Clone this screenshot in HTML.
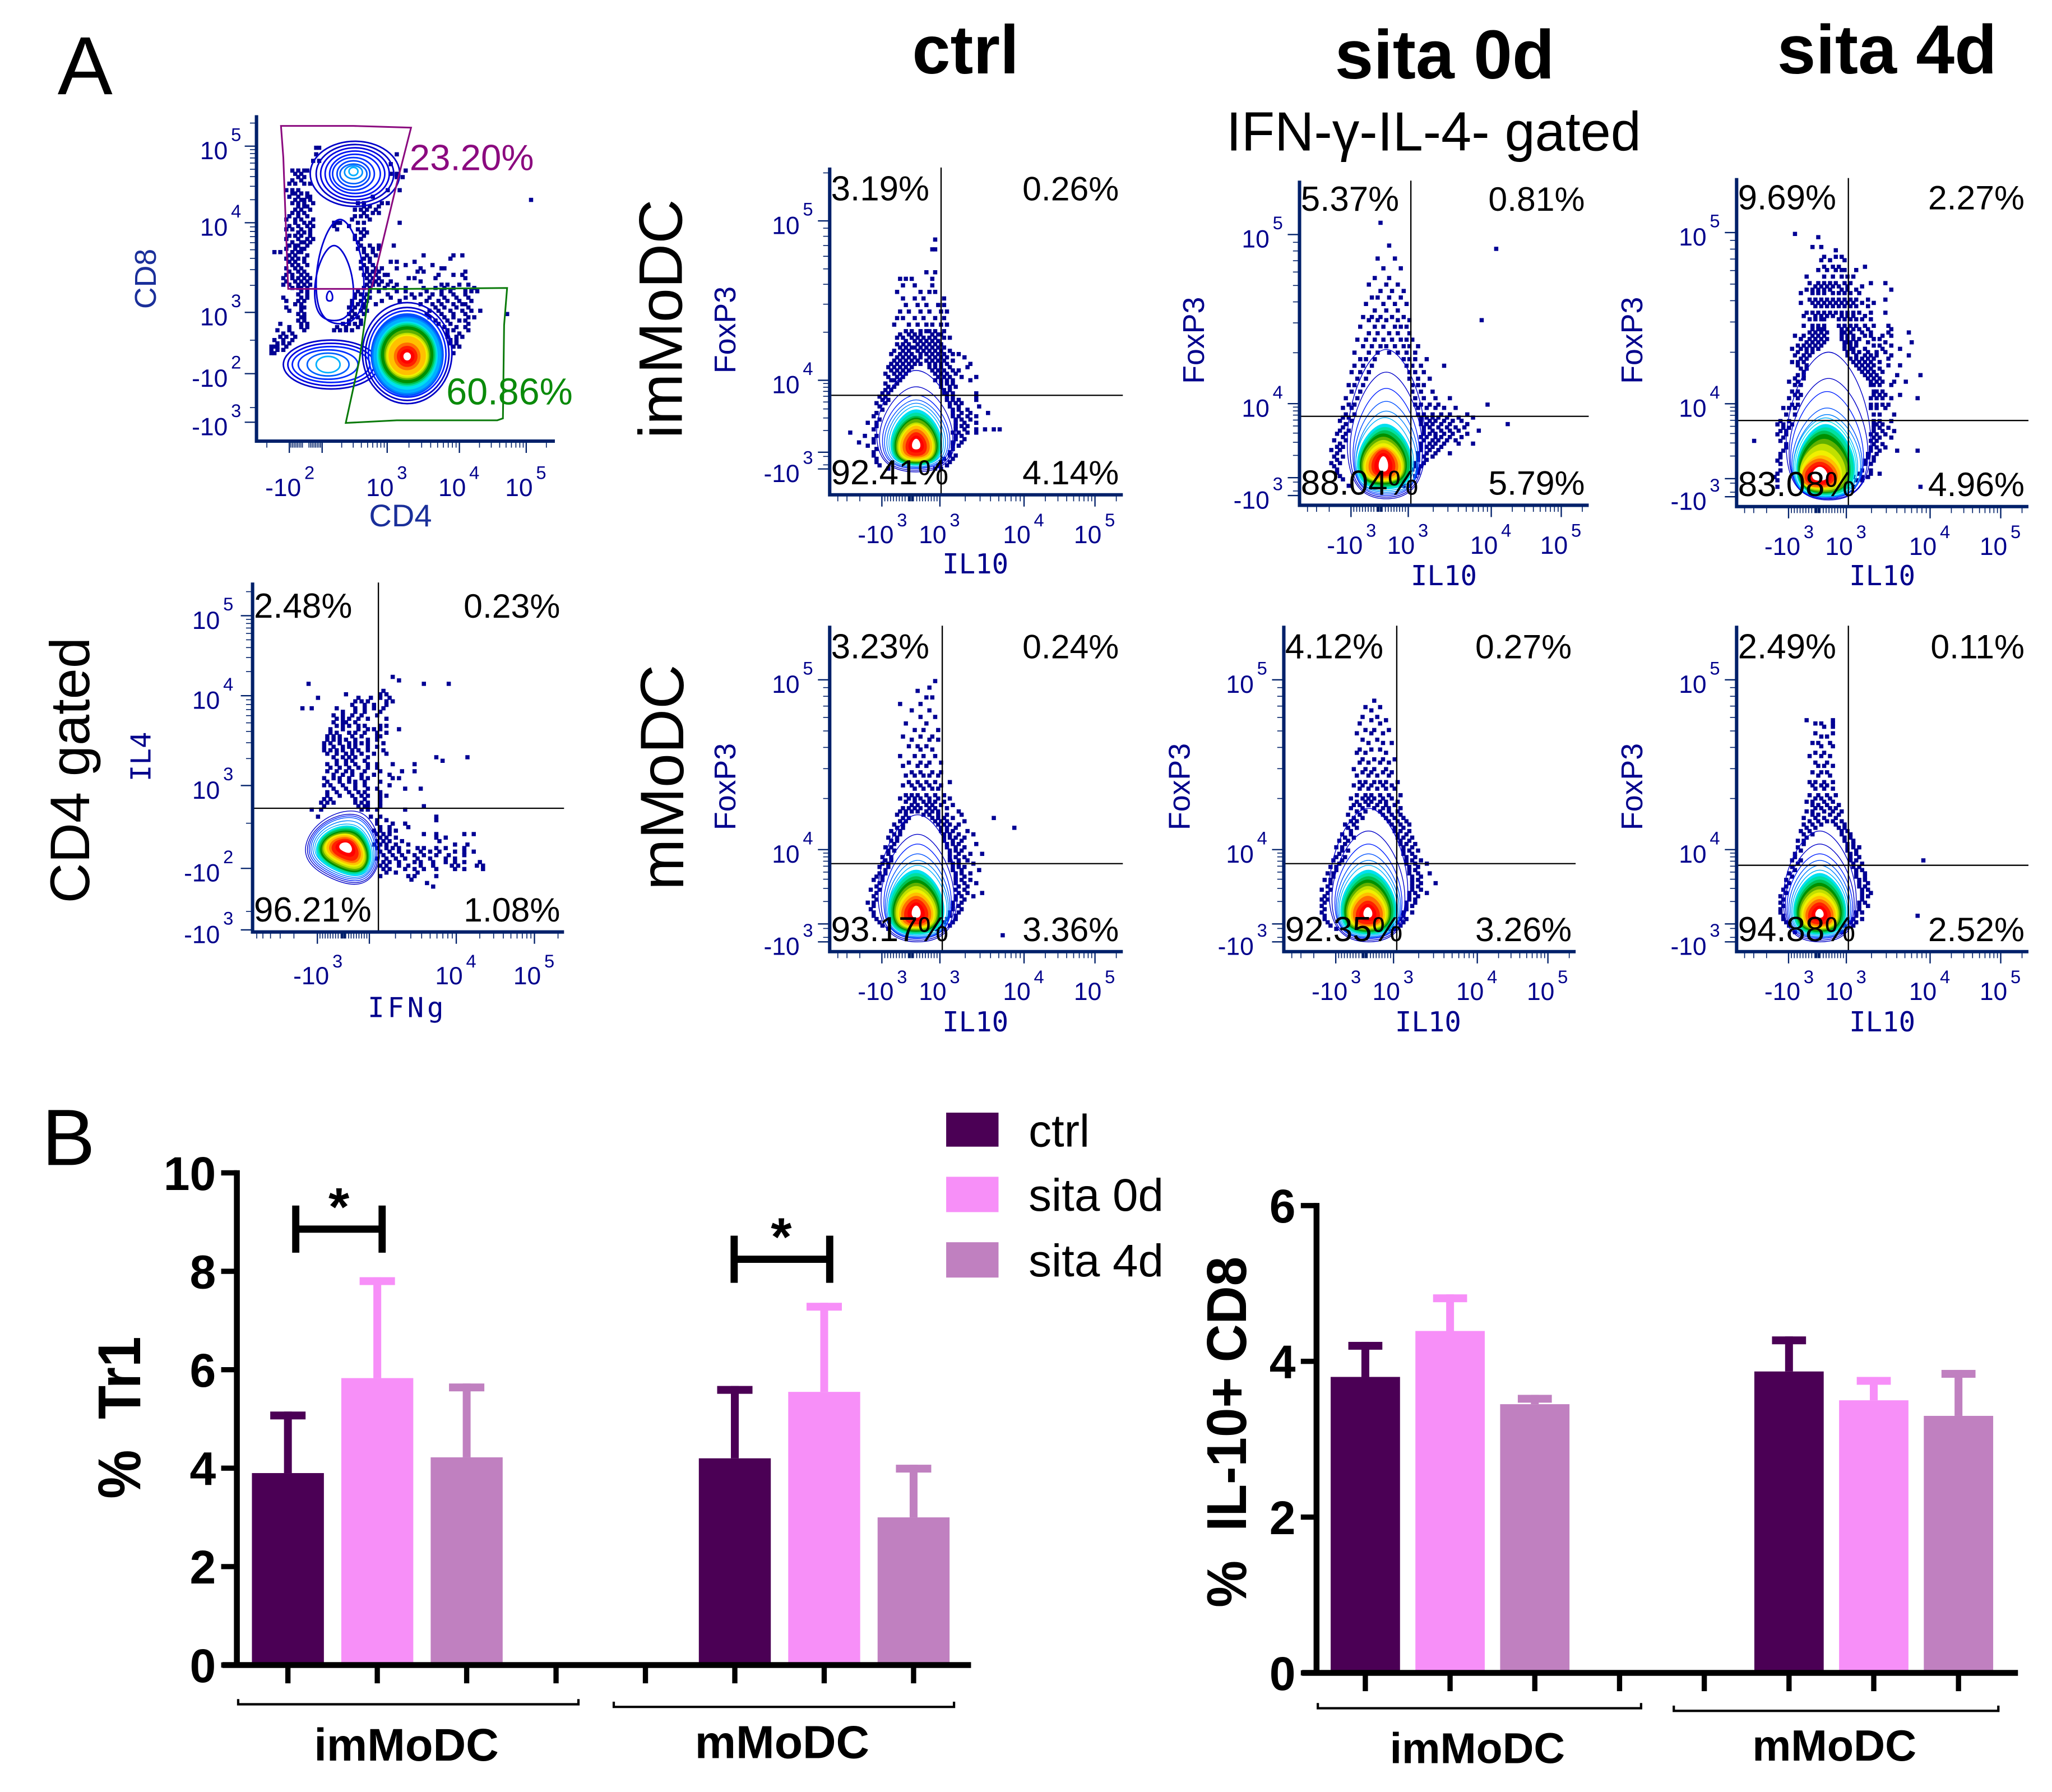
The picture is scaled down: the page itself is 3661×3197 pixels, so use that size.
<!DOCTYPE html>
<html lang="en">
<head>
<meta charset="utf-8">
<title>Flow cytometry and bar chart figure</title>
<style>
html,body{margin:0;padding:0;background:#fff}
svg{display:block;font-family:"Liberation Sans",sans-serif}
.b{font-weight:bold}
.flow{fill:#00008c;font-family:"Liberation Sans",sans-serif}
.mono{fill:#00008c;font-family:"DejaVu Sans Mono","Liberation Mono",monospace;font-size:21px}
</style>
</head>
<body>
<svg id="figure" xmlns="http://www.w3.org/2000/svg" width="3661" height="3197" viewBox="0 0 1568 1369" preserveAspectRatio="none">
<rect width="1568" height="1369" fill="#fff"/>
<text x="44" y="72" font-size="63">A</text>
<text x="32" y="890" font-size="61">B</text>
<text x="697" y="56" font-size="52.5" class="b">ctrl</text>
<text x="1020" y="60" font-size="53" class="b">sita 0d</text>
<text x="1358" y="56" font-size="53" class="b">sita 4d</text>
<text x="937" y="115" font-size="42" textLength="317" lengthAdjust="spacingAndGlyphs">IFN-γ-IL-4- gated</text>
<text transform="translate(521,335) rotate(-90)" font-size="47">imMoDC</text>
<text transform="translate(522,680) rotate(-90)" font-size="47">mMoDC</text>
<text transform="translate(68,690) rotate(-90)" font-size="42.5">CD4 gated</text>

<text transform="translate(119,213) rotate(-90)" text-anchor="middle" font-size="23" fill="#1a2f9a">CD8</text>
<text x="282" y="402" font-size="24" fill="#1a2f9a">CD4</text>
<text transform="translate(115,578) rotate(-90)" text-anchor="middle" class="mono">IL4</text>
<text x="281" y="777" class="mono" textLength="58">IFNg</text>
<text transform="translate(562,252) rotate(-90)" text-anchor="middle" font-size="23" class="flow">FoxP3</text>
<text transform="translate(920,260) rotate(-90)" text-anchor="middle" font-size="23" class="flow">FoxP3</text>
<text transform="translate(1255,260) rotate(-90)" text-anchor="middle" font-size="23" class="flow">FoxP3</text>
<text transform="translate(562,601) rotate(-90)" text-anchor="middle" font-size="23" class="flow">FoxP3</text>
<text transform="translate(909,601) rotate(-90)" text-anchor="middle" font-size="23" class="flow">FoxP3</text>
<text transform="translate(1255,601) rotate(-90)" text-anchor="middle" font-size="23" class="flow">FoxP3</text>
<text x="720" y="438" class="mono">IL10</text>
<text x="1078" y="447" class="mono">IL10</text>
<text x="1413" y="447" class="mono">IL10</text>
<text x="720" y="788" class="mono">IL10</text>
<text x="1066" y="788" class="mono">IL10</text>
<text x="1413" y="788" class="mono">IL10</text>

<g>
<rect x="723" y="850" width="40" height="26" fill="#4b0055"/>
<text x="786" y="876" font-size="35">ctrl</text>
<rect x="723" y="899" width="40" height="27" fill="#f78ff8"/>
<text x="786" y="925" font-size="35">sita 0d</text>
<rect x="723" y="949" width="40" height="27" fill="#c080c0"/>
<text x="786" y="975" font-size="35">sita 4d</text>
</g>

<text transform="translate(107,1145) rotate(-90)" font-size="46" class="b" textLength="124" lengthAdjust="spacingAndGlyphs">%&#160;&#160;Tr1</text>
<text transform="translate(952,1228) rotate(-90)" font-size="43" class="b" textLength="268" lengthAdjust="spacingAndGlyphs">%&#160;&#160;IL-10+ CD8</text>
<text x="240" y="1345" font-size="34.8" class="b">imMoDC</text>
<text x="531" y="1343" font-size="35.3" class="b">mMoDC</text>
<text x="1062" y="1347" font-size="33" class="b">imMoDC</text>
<text x="1339" y="1345" font-size="33.2" class="b">mMoDC</text>
<path d="M182 1298V1302H442V1298" fill="none" stroke="#000" stroke-width="1.8"/>
<path d="M469 1300V1304H729V1300" fill="none" stroke="#000" stroke-width="1.8"/>
<path d="M1007 1301V1305H1254V1301" fill="none" stroke="#000" stroke-width="1.8"/>
<path d="M1279 1303V1307H1527V1303" fill="none" stroke="#000" stroke-width="1.8"/>
<path d="M226 921V957M292 921V957M226 939H292" fill="none" stroke="#000" stroke-width="5.5"/>
<text x="251" y="936" font-size="41" class="b">*</text>
<path d="M561 944V980M634 944V980M561 962H634" fill="none" stroke="#000" stroke-width="5.5"/>
<text x="589" y="959" font-size="41" class="b">*</text>
</svg>

<script>
/* ---------- bar chart values ---------- */
const treatments = ['ctrl', 'sita 0d', 'sita 4d'];
const groups = ['imMoDC', 'mMoDC'];
const treatmentColors = ['#4b0055', '#f78ff8', '#c080c0'];
const tr1Means = [3.9, 5.83, 4.22, 4.2, 5.55, 3.0];
const tr1ErrorTops = [5.15, 7.88, 5.72, 5.67, 7.36, 4.07];
const tr1Ticks = [0, 2, 4, 6, 8, 10];
const il10Cd8Means = [3.8, 4.39, 3.45, 3.87, 3.5, 3.3];
const il10Cd8ErrorTops = [4.25, 4.86, 3.57, 4.32, 3.8, 3.89];
const il10Cd8Ticks = [0, 2, 4, 6];
const slotCount = 8;

/* ---------- flow axis tick values and their display channels (0-100) ---------- */
const il10TickValues = [-1000, 1000, 10000, 100000];
const il10TickChannels = [17.8, 37.6, 66.3, 90.5];
const foxp3TickValues = [-1000, 1000, 10000, 100000];
const foxp3LabelledValues = [-1000, 10000, 100000];
const foxp3ChannelsA = [7.9, 13, 35, 83.7];
const foxp3ChannelsB = [3, 8.5, 31.3, 83.4];
const cd4TickValues = [-100, 100, 1000, 10000, 100000];
const cd4LabelledValues = [-100, 1000, 10000, 100000];
const cd4TickChannels = [11, 22, 43.8, 68, 90.4];
const cd8TickValues = [-1000, -100, 1000, 10000, 100000];
const cd8TickChannels = [5.8, 20.7, 39.5, 67, 90.5];
const ifngTickValues = [-1000, 1000, 10000, 100000];
const ifngLabelledValues = [-1000, 10000, 100000];
const ifngTickChannels = [20.8, 37.5, 65.4, 90.5];
const il4TickValues = [-1000, -100, 1000, 10000, 100000];
const il4TickChannels = [0.6, 18.2, 41.9, 67.6, 90.5];

/* ---------- percentages ---------- */
const pctImCtrl = ['3.19%', '0.26%', '92.41%', '4.14%'];
const pctImSita0 = ['5.37%', '0.81%', '88.04%', '5.79%'];
const pctImSita4 = ['9.69%', '2.27%', '83.08%', '4.96%'];
const pctMatCtrl = ['3.23%', '0.24%', '93.17%', '3.36%'];
const pctMatSita0 = ['4.12%', '0.27%', '92.35%', '3.26%'];
const pctMatSita4 = ['2.49%', '0.11%', '94.88%', '2.52%'];
const pctIl4Ifng = ['2.48%', '0.23%', '96.21%', '1.08%'];

/* ---------- events: each row is [channel y, channel x, channel x, ...] ---------- */
const eventsImCtrl = [[78,36],[75,36,35],[68,36,33],[66,24,26,28,35],[64,25,29,35],[62,23,31,34,36],[60,25,29,32,39],[58,26,30,33,37,39],[56,24,27,31,34,38,40],[54,23,25,29,32,36,39],[52,22,27,30,33,35,38,40],[50,26,28,31,33,34,36,39],[49,24,27,29,31,35,37,38],[48,23,25,28,30,32,34,36,39,41],[47,26,29,31,33,35,37],[46,23,25,27,30,32,34,36,38],[45,24,26,28,29,31,33,35,37,39],[44,22,25,27,30,32,34,36,38,41],[43,21,24,26,28,31,33,35,37,39,42,44],[42,23,25,27,29,31,34,36,38,40,46],[41,22,24,26,28,30,33,35,37,39,42],[40,21,23,25,27,29,31,34,36,38,40,48],[39,20,22,24,26,28,34,36,38,41,47],[38,21,23,25,27,35,37,39,42,44],[37,19,22,24,26,36,38,40,43],[36,20,23,25,37,39,41,45,50],[35,21,22,24,36,38,40,42,48],[34,19,23,38,40,42],[33,20,22,38,41,43],[32,19,21,39,41],[31,18,20,39,40,42,50],[30,17,19,40,42,50],[29,18,20,40,42,44,50],[28,16,19,41,43,45],[27,17,41,44,51],[26,18,42,44,47],[25,16,42,45,48,54],[24,15,42,44,47,50],[23,17,43,45,48],[22,13,16,43,46,50],[21,16,43,45,47],[20,15,43,46,50,53,56,58],[19,7,42,44,47,50],[18,12,16,43,45],[17,15,43,46],[16,10,15,42,45],[15,13,42,44],[14,16,42],[13,15,41],[12,15,41,43],[11,16,39,42],[10,16,38,41],[9,17,37,40],[8,20,36,38]];
const eventsImSita0 = [[87,28],[80,31],[79,68],[76,27,33],[73,29,35],[70,26,31],[68,24,30,34],[66,28,32,36],[64,25,27,31,35],[62,23,29,33,37],[60,26,30,34],[58,22,25,28,32,36],[57,63,24,27,30,34,38],[55,21,26,29,33,35,37],[53,24,27,31,34,38],[51,20,23,26,29,32,35,37,39],[49,22,25,28,30,33,36,38,41],[47,19,24,27,31,34,37,40],[45,21,23,26,36,38,40,44],[43,19,22,25,37,39,42,50],[41,18,21,24,38,40,43],[39,20,23,38,41,45],[37,17,19,22,39,41,43],[35,18,21,39,42,46],[33,16,20,40,43,47,52],[31,17,19,40,42,45,48,65],[30,15,18,41,44,47,50,54],[28,16,19,41,43,46,49,52,58],[27,15,17,42,44,46,48,51,55,60],[26,14,18,42,45,47,50,53,56],[25,16,42,44,46,49,52,58,72],[24,15,43,45,48,51,54,57],[23,14,17,43,46,49,52,55,62],[22,13,16,43,45,47,50,53,58],[21,15,42,44,47,49,52,56],[20,12,16,43,46,48,51,54],[19,14,42,45,47,50,55,60],[18,13,15,42,44,46,49],[17,11,14,42,45,48],[16,13,41,44,47,52],[15,12,15,41,43,46],[14,13,41,44],[13,11,14,40,43],[12,12,40,42],[11,13,39,41],[10,13,38,41],[9,14,38,40],[8,15,37],[6,17,36,38]];
const eventsImSita4 = [[83,20],[82,28],[79,26,29],[78,34],[76,30,34,36],[75,29,32,37],[73,30,33,35,44],[72,28,31,34,36,37,41],[70,24,30,33,36,38,40],[68,25,28,30,32,34,37,39,51,46],[67,27,29,31,33,35,38,43],[66,24,26,28,30,32,36,38,41,53],[65,22,26,28,30,33,35,37,39,42],[63,25,27,29,31,33,35,37,39,41,45,51],[62,22,26,28,30,32,34,36,38,40,43,47],[61,27,29,31,33,35,37,39,41,45],[59,24,26,28,30,32,34,36,38,40,42,46,51],[58,23,27,29,31,33,36,38,40,44],[57,25,27,29,30,35,37,39,41,43,46],[55,23,26,28,30,35,37,39,41,44,47,52],[54,26,28,29,30,36,38,40,42,45,53],[53,25,27,29,31,36,37,39,43,46,52,59],[52,20,23,26,28,30,36,38,40,44,46,50,53],[51,22,25,27,29,31,36,38,40,42,47,49],[50,24,26,28,30,37,38,39,41,45,51,60],[49,21,23,25,27,29,37,39,41,47,49,53],[48,19,22,24,26,28,37,39,40,44,50,56],[47,21,24,26,38,40,42,45,48,51],[46,20,23,25,38,41,44,46,48,53,59],[45,22,24,39,41,43,45,47,52],[44,19,21,23,40,42,44,46,49],[43,21,24,41,43,45,47,52,56],[42,22,24,42,44,46,49],[41,23,43,45,47,50],[40,21,23,44,46,48,55,63],[39,20,23,45,47,49],[38,18,21,46,48,50,54,58],[37,20,22,46,47,49,53],[35,19,21,47,48,50],[34,20,22,47,49,51,56],[33,18,21,46,48,50,53,62],[31,19,21,46,48,50,52],[30,16,18,20,46,48,51],[28,17,20,47,49,54],[26,15,18,47,49,53],[25,14,16,19,47,48,50],[24,16,18,47,49,52],[23,15,17,47,50,54],[22,14,17,46,48,51],[21,16,47,49,53],[20,6,15,46,48],[19,17,47,50],[18,17,46,48,51],[17,16,46,49,55,62],[16,15,45,48],[15,15,45,47],[14,14,44,47],[13,15,44,46],[11,15,43,46],[10,14,42,46,49],[9,13,40,43,45],[8,14,39,41,43],[6,14,38,40,63]];
const eventsMatCtrl = [[83,36],[81,34],[80,30],[78,33,35],[76,31,24],[74,28,34],[72,31,36],[70,26,33],[68,29,32,37],[66,25,31,35],[65,28,34,37],[63,27,30,33],[62,31,35],[60,24,29,32,36],[58,27,31,34,38],[57,25,30,33],[55,28,31,35,38],[54,26,29,32,34,37],[52,27,30,33,36,41],[51,25,28,31,34,38],[50,29,32,35,37],[48,26,28,30,33,36,39],[47,24,27,29,31,34,37,41],[46,26,29,32,34,36,39],[45,28,30,33,35,38,42],[44,25,27,29,31,34,36,40],[43,24,26,28,30,33,35,37,44],[42,23,26,32,34,37,40,45],[41,25,27,35,37,39,42,56],[40,24,26,36,38,40,46],[39,22,25,37,39,41,44],[38,23,25,38,40,43,63],[37,21,24,38,40,42,47],[36,22,24,39,41,44,49],[35,20,23,39,41,43,46],[34,21,23,39,42,45],[33,22,40,42,44,50],[32,19,21,40,43,46],[31,20,22,41,43,45],[30,20,41,44,48,52],[29,18,21,41,43,46],[28,19,21,41,44,47],[27,18,20,42,44,49],[26,17,20,42,44,46],[25,19,42,45,51],[24,17,19,43,45,48],[23,16,18,43,46],[22,15,18,43,45,48],[21,17,43,46,50],[20,16,44,47],[19,14,17,43,46],[18,16,44,47,52],[17,15,43,45,49],[16,16,43,46],[15,13,15,42,45],[14,15,42,44],[13,14,42,45],[12,15,41,44],[11,15,41,43],[10,16,40,43],[9,17,39,42],[8,18,38,41],[7,20,36,39],[5,59]];
const eventsMatSita0 = [[77,31],[75,28,33],[74,30],[72,27,32],[71,30,35],[70,26,33],[68,28,31,36],[67,25,30,34],[65,27,32],[64,29,34,37],[62,26,30,33],[61,25,28,35],[59,27,31,34,38],[58,26,29,33,36],[56,24,28,31,35],[55,27,30,34,37],[54,25,29,32,36],[52,26,28,31,33,35,39],[51,24,27,30,34,37],[50,26,29,32,35,38],[48,25,28,30,33,36,40],[47,23,27,29,31,34,37],[46,25,28,30,33,35,39],[45,24,26,29,32,35,38],[44,23,27,31,34,36,40],[43,25,28,33,36,39],[42,22,26,34,37,40],[41,24,27,35,38,41],[40,23,25,36,39,42],[39,21,24,37,40,43],[38,22,25,38,41],[37,23,38,40,43],[36,20,23,39,42],[35,21,24,39,41,44],[34,19,22,40,43],[33,21,40,42,45],[32,18,20,41,44],[31,20,22,41,43,46],[30,19,41,44],[29,18,21,42,45],[28,17,20,42,44,47],[27,19,42,45,49],[26,16,18,43,46],[25,18,43,45],[24,15,17,43,46,50],[23,17,44,47],[22,14,16,44,46],[21,16,44,47,52],[20,15,44,46],[19,13,16,44,47],[18,15,43,45,49],[17,14,43,46],[16,13,15,43,45],[15,14,42,45],[14,13,42,44],[13,14,42],[12,13,41,44],[11,14,41],[10,14,40,42],[9,15,39,41],[8,16,37,40],[7,18,36,38]];
const eventsMatSita4 = [[71,24,33],[70,27,29,33],[69,30,33],[67,27,33],[66,29,31],[64,26,28,32],[63,29,33],[61,27,30],[60,25,29,32],[58,27,31],[57,28,30,33],[55,26,29,31],[54,28,32],[52,25,27,30,33],[51,26,29,31],[50,27,30,33],[48,25,28,31,34],[47,27,29,32],[46,24,26,30,33],[45,26,28,31,35],[44,27,29,32,34],[43,24,26,30,33,36],[42,26,28,32,35],[41,23,27,30,34],[40,25,28,31,33,36],[39,23,26,29,34,37],[38,24,27,35,37],[37,22,25,36,38],[36,23,26,36,39],[35,24,37,39],[34,21,23,37,40],[33,23,38,40],[32,21,38,40,42],[31,22,38,41],[30,20,39,41],[29,20,39,42],[28,64,19,22,39,41],[27,21,40,43],[26,19,40,42],[25,20,41,43],[24,18,41,44],[23,19,41,44],[22,17,42,44],[21,18,42,45],[20,17,42,44],[19,16,43,45],[18,17,43,46],[17,15,43,45],[16,16,43],[15,15,42,44],[14,16,42,45],[13,15,42],[12,15,41,43],[11,62,16,41],[10,16,40,43],[9,17,39,41],[8,18,37,40],[6,20,36]];
const eventsIl4Ifng = [[73,45],[72,47],[71,18,55,63],[69,42],[68,30,41,43],[67,21,34,38,41,44],[66,33,35,37,43,45],[65,32,36,39,43],[64,16,19,27,33,36,39,42],[63,29,33,36,41],[62,26,29,32,35,40],[61,27,29,31,34,37,43],[60,26,29,30,33],[59,27,29,31,34,36,41,43],[58,25,29,34,37,39,41,47],[57,25,27,31,33,36,40,43],[56,24,26,28,32,35,40,41],[55,24,26,28,30,33,37,40],[54,23,25,28,31,33,35,37,42],[53,23,26,29,31,33,37,40],[52,23,25,27,29,32,34,37,42],[51,24,27,30,32,35,39,43],[50,26,29,31,33,37,59,69],[49,27,30,32,36,61],[48,24,27,30,33,37,40,45,52],[47,25,28,31,34,37,40],[46,24,27,30,32,36,41,48,52],[45,26,29,32,35,39,44],[44,23,26,28,31,35,37,45,47],[43,24,28,31,33,36,41],[42,23,25,29,33,36,44],[41,26,30,33,37,40,49,54],[40,24,27,31,34,36,41],[39,24,28,32,35,37,41,43],[38,23,25,33,36,41],[37,22,24,26,33,35,37,41],[36,23,34,36,37,41,55],[35,19,22,35,37,40,49],[33,21,38,41,59],[32,40,43,59],[31,40,45,49],[30,41,44,50],[29,39,41,44,46],[28,40,42,44,55,59,68,71],[27,41,43,46,59,62],[26,40,42,44,48,60],[25,39,41,43,46,50,65,69],[24,40,43,45,47,53,55,59,62,68],[23,41,44,47,50,54,57,60,65,68,71],[22,42,45,48,52,55,59,63,68],[21,40,43,46,49,53,57,62,65],[20,42,44,47,52,54,58,62,65,68,73],[19,41,43,47,50,54,58,64,66,72,74],[18,42,44,49,52,55,59,65,68,74],[17,43,46,53],[16,41,50,52,59],[15,51],[14,56],[13,58]];
const eventsCd4Cd8 = [[90,20,21],[88,20,47],[86,19,21],[85,45],[83,12,14,16,17,50],[82,13,15,45,47],[81,14,16,47,49],[80,12,15],[79,11,13,16,18],[77,10,12,14,44,48],[76,12,13,15,17],[75,11,14,17,18,39],[74,92,13,15,16,18],[73,12,14,16,19,34,36,42,44],[72,14,16,17,36,38,41],[71,13,15,18,33,35,37,40],[70,12,14,16,36,39,41],[69,11,14,17,33,35,37],[68,10,13,15,19,32,38],[67,48,13,16,18,26,27,28,34,36],[66,11,14,17,19,26,31],[65,10,12,15,18,27,34,36],[64,14,16,18,35,37],[63,11,13,15,18,33,36],[62,10,14,17,19,33,35],[61,12,15,16,18,34],[60,46,11,13,14,17,35,38,41],[59,10,13,15,16,34,36,39,41],[58,6,8,12,14,15,36,39],[57,11,13,17,37,40,56,66,69],[56,10,12,14,16,36,38,65],[55,11,13,16,35,38,45,47,53],[54,12,14,17,36,39,50,59],[53,10,13,15,35,37,40,42,47,55,62,63],[52,11,14,16,37,39,41,54,56,70],[51,10,12,15,17,36,38,40,43,44,61,66,69],[50,9,12,14,16,18,37,39,41,51,53,60,70],[49,10,13,15,17,38,40,42,45,55],[48,9,11,14,16,18,37,39,41,44,47,62,64,68,71],[47,12,14,15,17,36,38,43,46,50,56,60,63,66,73],[46,15,17,34,38,41,47,50,57,62,65,70,72,74],[45,14,17,33,35,37,44,52,55,59,62,66,70],[44,9,15,17,33,36,38,45,50,53,58,63,67,71],[43,10,14,16,32,35,37,42,48,57,61,64,68,72],[42,13,15,32,34,36,40,55,59,62,66,69,70],[41,10,15,16,31,33,36,60,63,67,71],[40,11,15,32,35,37,58,61,65,69,72,75],[39,14,16,31,33,36,57,62,66,70,84],[38,15,16,32,34,58,63,66,71,73],[37,14,16,31,35,60,64,68,70],[36,8,15,17,29,31,33,35,61,65,71],[35,11,15,17,27,30,34,63,67,70],[34,7,11,16,26,28,30,32,64,66,71],[33,9,12,64,68],[32,8,10,13,64,67,69],[31,6,9,12,65,67],[30,7,9,11,65,67],[29,5,6,7,10,66,68],[28,5,7,9],[27,5,6,66]];

/* ---------- contour rings: [centre x, bottom y, top y, half width] in channels ---------- */
const ringsImCtrl = [[29.5,7,38,13.5],[29.5,7.5,33,12.5],[29.5,8,30.5,11.5],[29.5,8.3,29,10.8],[29.5,8.6,28,10],[29.5,9,27,9.3],[29.5,9,26,8.7],[29.5,9.3,25,8.2],[29.5,9.5,24,7.7],[29.5,9.8,23.5,7.2],[29.5,10,23,6.8],[29.5,10.3,22,6.3],[29.5,10.6,21.5,5.8],[29.5,11,21,5.3],[29.5,11.5,20,4.5],[29.5,12,19,3.5],[29.5,13,18,2.5],[29.5,14,17,1.3]];
const ringsImSita0 = [[30,2,48,13.5],[30,2.5,41,12.5],[30,3,36,11.5],[30,3.5,32,11],[30,4,29,10.5],[29.5,4.5,27,10],[29.5,5,25,9.5],[29.5,5.5,24,9],[29.5,6,23,8.5],[29,6.5,22,8],[29,7,21,7.5],[29,7.3,20,7],[29,7.6,19,6.5],[29,8,18,6],[29,8.5,17.5,5],[29,9,17,4],[29,9.5,16,3],[29,10.5,15,1.5]];
const ringsImSita4 = [[31.5,2,47,14.5],[31.5,2.3,39,13.5],[31,2.5,35,12.5],[31,2.8,30,12],[31,3,28,11.5],[30.5,3,27,11],[30.5,3.2,26,10.5],[30.5,3.5,25,10],[30.5,3.7,24,9.5],[30,4,23,9],[30,4.3,22,8.6],[30,4.5,20.5,8.2],[29.5,5,19,7.8],[29.5,5.2,18,7.4],[29,5.5,17,7],[29,5.7,15.5,6.5],[28.5,6,14.5,6],[28.5,6.5,13.5,5],[28.5,7,12.5,4],[28.5,8,12,2.5]];
const ringsMatCtrl = [[30,3,42,13.5],[30,3.5,36,12.5],[30,4,33,11.5],[30,4.3,30,11],[30,4.6,28,10.5],[30,5,26.5,10],[29.5,5.3,25,9.5],[29.5,5.6,24,9],[29.5,6,23,8.4],[29.5,6.3,22,7.9],[29.5,6.6,21,7.4],[29.5,7,20,6.9],[29.5,7.3,19,6.3],[29.5,7.6,18,5.7],[29.5,8,17,5],[29.5,8.5,16,4],[29.5,9.5,15,2.8],[29.5,10.5,14,1.4]];
const ringsMatSita0 = [[29,3,44,13.5],[29,3.5,37,12.5],[29,4,33,11.5],[29,4.3,30,11],[29,4.6,28,10.5],[29,5,26.5,10],[29,5.3,25,9.5],[29,5.6,24,9],[29,6,23,8.4],[28.8,6.3,22,7.9],[28.8,6.6,21,7.4],[28.8,7,20,6.9],[28.8,7.3,19,6.3],[28.8,7.6,18,5.7],[28.8,8,17,5],[28.8,8.5,15.5,4],[28.8,9.5,14.5,2.8],[28.8,10.5,13.5,1.4]];
const ringsMatSita4 = [[28.5,3,37,12.5],[28.5,3.5,33,11.8],[28.5,4,30,11.2],[28.5,4.3,28,10.6],[28.5,4.6,26.5,10],[28.5,5,25,9.5],[28.5,5.3,24,9],[28.5,5.6,23,8.6],[28.5,6,22,8],[28.4,6.3,21,7.5],[28.4,6.6,20,7],[28.4,7,19,6.5],[28.4,7.3,18,6],[28.4,7.6,17,5.4],[28.4,8,16,4.7],[28.4,8.5,15,3.8],[28.4,9.5,14,2.6],[28.4,10.5,13,1.3]];
const ringsIl4Ifng = [[30,14.5,35,12],[30,15,34,11.5],[30,15.5,33.5,11],[30,16,33,10.5],[30,16.5,32,10],[30,17,31,9.5],[30,17,30.5,9],[30,17.5,30,8.5],[30,18,29.5,8.2],[30,18,29,7.8],[30,18.5,28.5,7.4],[30,19,28,7],[30,19.5,28,6.5],[30,20,27.5,6],[30,20.5,27,5.2],[30,21,26.5,4.4],[30,22,26,3.2],[30,23,25.5,2]];
const ringsCd4Blob = [[50.5,11.5,42.5,15],[50.5,12.5,41,14],[50.5,13.5,40,13],[50.5,14,39,12],[50.5,14.5,38,11.5],[50.5,15,37.5,11],[50.5,15.5,37,10.5],[50.5,16,36.5,10],[50.5,17,36,9.5],[50.5,17.5,35.5,9],[50.5,18,35,8.5],[50.5,18.5,34.5,8],[50.5,19,34,7.5],[50.5,19.5,33,7],[50.5,20,32.5,6.5],[50.5,20.5,32,6],[50.5,21,31,5.2],[50.5,22,30,4.2],[50.5,23,29,3.2],[50.5,24,28,2.2],[50.5,25,27,1]];
const ringsCd8Blob = [[33,72,92,15],[33,73,91,13],[33,74,90,11.5],[33,75,89,10],[33,76,88,8.5],[32.5,77,87,7],[32.5,78,86,5.5],[32.5,79,85,4.5],[32.5,80.5,84.5,3],[32.5,81.5,84,1.5]];
const ringsNegBlob = [[25,16,31,16],[25,17,30,14.5],[25,18,29,13],[24,19,28,10],[24,20,27,7],[24,21,26,4]];
const ringsMidLoops = [[28,36,68,8],[26,37,60,6.5],[24.5,43,46,1]];

/* ---------- gates (channels) ---------- */
const gateCd8 = [[8.2,96.7],[32.5,96.7],[51.8,96.2],[47,79],[38.5,46.7],[10.6,46.7],[9,87]];
const gateCd4 = [[37.8,46.7],[50.5,46.7],[84,47],[83,35.6],[82.6,7],[80.7,6.4],[47,6.4],[29.9,5.6],[34.5,25]];

/* ---------- colour ramps ---------- */
const densityRamp = ['#0000c8','#0020ff','#0050ff','#0080ff','#00b0ff','#00e0f0','#00e0a0','#00c050','#009000','#60b000','#c0e000','#f0f000','#ffc000','#ff7000','#ff2000','#ff0000','#ffffff'];
const sparseRamp = ['#0000c8','#0000e0','#0010f0','#0020ff','#0030ff','#0040ff','#0060ff','#0090ff','#00b0ff'];
const lineRamp = ['#0000d0'];

/* ---------- plot layout ---------- */
const plots = [
 {id:'immodc-ctrl',L:634,R:858,T:128,B:378,qx:38,qy:30.4,events:eventsImCtrl,contours:[{rings:ringsImCtrl,ramp:densityRamp,fillFrom:6}],pct:pctImCtrl,xv:il10TickValues,xc:il10TickChannels,xl:il10TickValues,yv:foxp3TickValues,yc:foxp3ChannelsA,yl:foxp3LabelledValues,top:25,xGap:37,yGap:23,line:0.6},
 {id:'immodc-sita-0d',L:993,R:1214,T:138,B:386,qx:38.5,qy:27.4,events:eventsImSita0,contours:[{rings:ringsImSita0,ramp:densityRamp,fillFrom:6}],pct:pctImSita0,xv:il10TickValues,xc:il10TickChannels,xl:il10TickValues,yv:foxp3TickValues,yc:foxp3ChannelsB,yl:foxp3LabelledValues,top:23,xGap:37,yGap:23,line:0.6},
 {id:'immodc-sita-4d',L:1327,R:1550,T:136,B:387,qx:38.3,qy:26.2,events:eventsImSita4,contours:[{rings:ringsImSita4,ramp:densityRamp,fillFrom:7}],pct:pctImSita4,xv:il10TickValues,xc:il10TickChannels,xl:il10TickValues,yv:foxp3TickValues,yc:foxp3ChannelsB,yl:foxp3LabelledValues,top:24,xGap:37,yGap:23,line:0.6},
 {id:'mmodc-ctrl',L:634,R:858,T:478,B:727,qx:38.4,qy:27,events:eventsMatCtrl,contours:[{rings:ringsMatCtrl,ramp:densityRamp,fillFrom:6}],pct:pctMatCtrl,xv:il10TickValues,xc:il10TickChannels,xl:il10TickValues,yv:foxp3TickValues,yc:foxp3ChannelsB,yl:foxp3LabelledValues,top:25,xGap:37,yGap:23,line:0.6},
 {id:'mmodc-sita-0d',L:981,R:1204,T:478,B:727,qx:38.7,qy:27,events:eventsMatSita0,contours:[{rings:ringsMatSita0,ramp:densityRamp,fillFrom:6}],pct:pctMatSita0,xv:il10TickValues,xc:il10TickChannels,xl:il10TickValues,yv:foxp3TickValues,yc:foxp3ChannelsB,yl:foxp3LabelledValues,top:25,xGap:37,yGap:23,line:0.6},
 {id:'mmodc-sita-4d',L:1327,R:1550,T:478,B:727,qx:38.3,qy:26.5,events:eventsMatSita4,contours:[{rings:ringsMatSita4,ramp:densityRamp,fillFrom:6}],pct:pctMatSita4,xv:il10TickValues,xc:il10TickChannels,xl:il10TickValues,yv:foxp3TickValues,yc:foxp3ChannelsB,yl:foxp3LabelledValues,top:25,xGap:37,yGap:23,line:0.6},
 {id:'il4-ifng',L:193,R:431,T:445,B:712,qx:40.4,qy:35.4,events:eventsIl4Ifng,contours:[{rings:ringsIl4Ifng,ramp:densityRamp,fillFrom:6,tilt:25}],pct:pctIl4Ifng,xv:ifngTickValues,xc:ifngTickChannels,xl:ifngLabelledValues,yv:il4TickValues,yc:il4TickChannels,yl:il4TickValues,top:27,xGap:40,yGap:25,line:0.6},
 {id:'cd4-cd8',L:196,R:424,T:88,B:337,events:eventsCd4Cd8,contours:[{rings:ringsCd8Blob,ramp:sparseRamp,fillFrom:99,round:true},{rings:ringsNegBlob,ramp:sparseRamp,fillFrom:99,round:true},{rings:ringsMidLoops,ramp:lineRamp,fillFrom:99},{rings:ringsCd4Blob,ramp:densityRamp,fillFrom:3,round:true}],pct:null,xv:cd4TickValues,xc:cd4TickChannels,xl:cd4LabelledValues,yv:cd8TickValues,yc:cd8TickChannels,yl:cd8TickValues,top:25,xGap:42,yGap:22,line:1.2}
];

const NS = 'http://www.w3.org/2000/svg';
const fig = document.getElementById('figure');
function make(tag, attrs, parent, txt) {
  const e = document.createElementNS(NS, tag);
  for (const k in attrs) e.setAttribute(k, attrs[k]);
  if (txt !== undefined) e.textContent = txt;
  (parent || fig).appendChild(e);
  return e;
}

/* piecewise biexponential-like axis: value -> channel */
function biex(values, chans) {
  const n = values.length;
  const t = (a, b, v) => (a > 0 && b > 0) ? [Math.log10(a), Math.log10(b), Math.log10(v)]
    : (a < 0 && b < 0) ? [-Math.log10(-a), -Math.log10(-b), -Math.log10(-v)] : [a, b, v];
  return v => {
    if (v < values[0]) {
      if (values[0] < 0) return chans[0] - 25 * Math.log10(v / values[0]);
      return chans[0];
    }
    if (v > values[n - 1]) {
      const s = (chans[n - 1] - chans[n - 2]);
      return chans[n - 1] + s * Math.log10(v / values[n - 1]);
    }
    for (let i = 0; i < n - 1; i++) {
      if (v >= values[i] && v <= values[i + 1]) {
        const [a, b, c] = t(values[i], values[i + 1], v);
        return chans[i] + (c - a) / (b - a) * (chans[i + 1] - chans[i]);
      }
    }
    return chans[0];
  };
}

function minorTickValues() {
  const out = [];
  for (let d = 10; d <= 100000; d *= 10) {
    for (let m = 2; m <= 9; m++) { out.push(m * d); out.push(-m * d); }
  }
  return out;
}
const minors = minorTickValues();

function ringPath(x, yB, yT, rx, round) {
  if (round) {
    const c = (yB + yT) / 2, ry = (yB - yT) / 2;
    return `M${x - rx} ${c}a${rx} ${ry} 0 1 0 ${2 * rx} 0a${rx} ${ry} 0 1 0 ${-2 * rx} 0Z`;
  }
  const h = yB - yT, w = yB - h * 0.38;
  return `M${x} ${yB}C${x + rx * .75} ${yB} ${x + rx} ${yB - h * .15} ${x + rx} ${w}C${x + rx} ${w - h * .3} ${x + rx * .45} ${yT} ${x} ${yT}C${x - rx * .45} ${yT} ${x - rx} ${w - h * .3} ${x - rx} ${w}C${x - rx} ${yB - h * .15} ${x - rx * .75} ${yB} ${x} ${yB}Z`;
}

function labelParts(v) {
  return [(v < 0 ? '-' : '') + '10', String(Math.round(Math.log10(Math.abs(v))))];
}

plots.forEach(p => {
  const g = make('g', {});
  
  
  const cx = c => p.L + c / 100 * (p.R - p.L);
  const cy = c => p.B - c / 100 * (p.B - p.T);
  const xScale = biex(p.xv, p.xc), yScale = biex(p.yv, p.yc);

  /* events */
  p.events.forEach(row => {
    for (let i = 1; i < row.length; i++) {
      const d = make('rect', {x: (cx(row[i]) - 1.6).toFixed(1), y: (cy(row[0]) - 1.6).toFixed(1), width: 3.2, height: 3.2, fill: '#000094'}, g);
      
      
    }
  });

  /* contours */
  p.contours.forEach(ct => {
    const n = ct.rings.length;
    ct.rings.forEach((r, i) => {
      const color = ct.ramp[Math.floor(i / Math.max(1, n - 1) * (ct.ramp.length - 1))];
      const x = cx(r[0]), yB = cy(r[1]), yT = cy(r[2]), rx = r[3] / 100 * (p.R - p.L);
      const a = {d: ringPath(x, yB, yT, rx, ct.round), stroke: color, 'stroke-width': p.line, fill: i >= ct.fillFrom ? color : 'none'};
      if (ct.tilt) a.transform = `rotate(${ct.tilt} ${x} ${(yB + yT) / 2})`;
      const e = make('path', a, g);
      
      
    });
  });

  /* quadrant lines */
  if (p.qx !== undefined) {
    const q = make('path', {d: `M${cx(p.qx)} ${p.T}V${p.B}M${p.L} ${cy(p.qy)}H${p.R}`, stroke: '#000', 'stroke-width': 1, fill: 'none'}, g);
    
    
  }

  /* minor ticks */
  let dx = '', dy = '';
  minors.forEach(v => {
    const a = xScale(v), b = yScale(v);
    if (a > 1 && a < 99) dx += `M${cx(a).toFixed(1)} ${p.B}v5`;
    if (b > 1 && b < 99 && (Math.abs(v) >= 2000 || Math.abs(v) === 500)) dy += `M${p.L} ${cy(b).toFixed(1)}h-5`;
  });
  const mt = make('path', {d: dx + dy, stroke: '#00206a', 'stroke-width': 0.7, fill: 'none'}, g);
  
  

  /* major ticks and labels */
  p.xv.forEach(v => {
    const X = cx(xScale(v));
    const t = make('line', {x1: X, x2: X, y1: p.B, y2: p.B + 9, stroke: '#00206a', 'stroke-width': 1}, g);
    
    
    if (p.xl.includes(v)) {
      const [base, exp] = labelParts(v);
      const endX = X + (v < 0 ? 9 : 5), by = p.B + p.xGap;
      const l = make('text', {x: endX, y: by, 'text-anchor': 'end', 'font-size': 19, class: 'flow'}, g, base);
      
      
      const s = make('text', {x: endX + 2.5, y: by - 13, 'font-size': 14, class: 'flow'}, g, exp);
      
      
    }
  });
  p.yv.forEach(v => {
    const Y = cy(yScale(v));
    const t = make('line', {x1: p.L, x2: p.L - 9, y1: Y, y2: Y, stroke: '#00206a', 'stroke-width': 1}, g);
    
    
    if (p.yl.includes(v)) {
      const [base, exp] = labelParts(v);
      const endX = p.L - p.yGap, by = Y + 10;
      const l = make('text', {x: endX, y: by, 'text-anchor': 'end', 'font-size': 19, class: 'flow'}, g, base);
      
      
      const s = make('text', {x: endX + 2.5, y: by - 14, 'font-size': 14, class: 'flow'}, g, exp);
      
      
    }
  });

  /* axes */
  const ax = make('path', {d: `M${p.L} ${p.T}V${p.B}H${p.R}`, stroke: '#00206a', 'stroke-width': 2.6, fill: 'none'}, g);
  
  

  /* quadrant percentages */
  if (p.pct) {
    const tl = make('text', {x: p.L + 1, y: p.T + p.top, 'font-size': 26.5, fill: '#000'}, g, p.pct[0]);
    
    
    const tr = make('text', {x: p.R - 3, y: p.T + p.top, 'font-size': 26, 'text-anchor': 'end', fill: '#000'}, g, p.pct[1]);
    
    
    const bl = make('text', {x: p.L + 1, y: p.B - 8, 'font-size': 26.5, fill: '#000'}, g, p.pct[2]);
    
    
    const br = make('text', {x: p.R - 3, y: p.B - 8, 'font-size': 26, 'text-anchor': 'end', fill: '#000'}, g, p.pct[3]);
    
    
  }

  /* gates on the CD4/CD8 plot */
  if (p.id === 'cd4-cd8') {
    const toPts = arr => arr.map(q => `${cx(q[0]).toFixed(1)},${cy(q[1]).toFixed(1)}`).join(' ');
    const g1 = make('polygon', {points: toPts(gateCd8), fill: 'none', stroke: '#8b0a7f', 'stroke-width': 1.3}, g);
    
    
    const g2 = make('polygon', {points: toPts(gateCd4), fill: 'none', stroke: '#0a7a0a', 'stroke-width': 1.3}, g);
    
    
    const t1 = make('text', {x: 313, y: 130, 'font-size': 28, fill: '#8b0a7f'}, g, '23.20%');
    
    
    const t2 = make('text', {x: 341, y: 309, 'font-size': 28.5, fill: '#0a8a0a'}, g, '60.86%');
    
    
  }
});

/* ---------- bar charts ---------- */
function barChart(cfg) {
  const g = make('g', {});
  
  
  const x = cfg.x, y = cfg.y;
  cfg.means.forEach((m, i) => {
    const grp = Math.floor(i / treatments.length), tr = i % treatments.length;
    const slot = grp * 5 + tr, color = treatmentColors[tr], X = x(slot), w = cfg.barW;
    const stem = make('rect', {x: X - 3, y: y(cfg.tops[i]), width: 6, height: y(m) - y(cfg.tops[i]), fill: color}, g);
    
    
    const cap = make('rect', {x: X - cfg.capW / 2, y: y(cfg.tops[i]), width: cfg.capW, height: 6, fill: color}, g);
    
    
    const bar = make('rect', {x: X - w / 2, y: y(m), width: w, height: y(0) - y(m), fill: color}, g);
    
    
  });
  for (let s = 0; s < slotCount; s++) {
    const t = make('line', {x1: x(s), x2: x(s), y1: y(0), y2: y(0) + 14, stroke: '#000', 'stroke-width': 4}, g);
    
    
  }
  cfg.ticks.forEach(v => {
    const t = make('line', {x1: cfg.axisX, x2: cfg.axisX - 12, y1: y(v), y2: y(v), stroke: '#000', 'stroke-width': 4}, g);
    
    
    const l = make('text', {x: cfg.axisX - 16, y: y(v) + 13, 'text-anchor': 'end', 'font-size': 36, 'font-weight': 'bold'}, g, String(v));
    
    
  });
  const ax = make('path', {d: `M${cfg.axisX} ${y(cfg.ticks[cfg.ticks.length - 1]) - 2}V${y(0)}M${cfg.axisL} ${y(0)}H${cfg.axisR}`, stroke: '#000', 'stroke-width': 4.5, fill: 'none'}, g);
  
  
}
barChart({name: 'tr1-bar-chart', means: tr1Means, tops: tr1ErrorTops, ticks: tr1Ticks,
  x: s => 220 + 68.3 * s, y: v => 1272 - 37.6 * v, barW: 55, capW: 27, axisX: 181, axisL: 170, axisR: 742});
barChart({name: 'il10-cd8-bar-chart', means: il10Cd8Means, tops: il10Cd8ErrorTops, ticks: il10Cd8Ticks,
  x: s => 1043.3 + 64.75 * s, y: v => 1278 - 59.5 * v, barW: 53, capW: 26, axisX: 1006, axisL: 995, axisR: 1542});
</script>
</body>
</html>
